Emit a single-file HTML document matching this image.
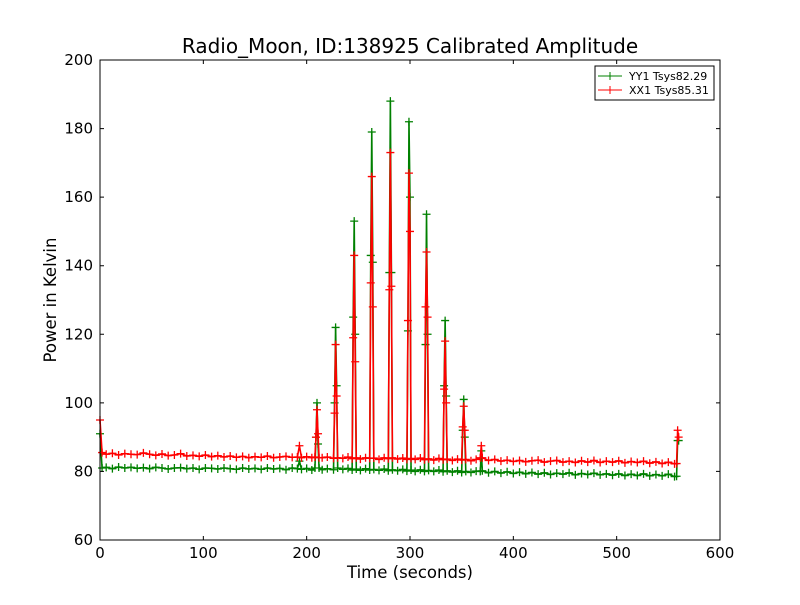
<!DOCTYPE html>
<html><head><meta charset="utf-8"><style>
body{margin:0;background:#fff;}
svg text{font-family:"DejaVu Sans","Liberation Sans",sans-serif;}
</style></head><body>
<svg id="chart" width="800" height="600" viewBox="0 0 800 600">
<rect width="800" height="600" fill="#fff"/>
<g id="plot"></g>
</svg>
<script>
const times=[0,2,6,12,18,24,30,36,42,48,54,60,66,72,78,84,90,96,102,108,114,120,126,132,138,144,150,156,162,168,174,180,186,191,193,195,200,205,208,209,210,211,212,215,220,226,227,228,229,230,235,240,244,245,246,247,248,252,257,261,262,263,264,265,270,275,279,280,281,282,283,288,293,297,298,299,300,301,305,310,314,315,316,317,318,323,328,332,333,334,335,336,341,346,350,351,352,353,354,359,364,368,369,370,376,382,388,394,400,406,412,418,424,430,436,442,448,454,460,466,472,478,484,490,496,502,508,514,520,526,532,538,544,550,556,558,559,560];
const yy1=[91,81,81.2,80.8,81.3,81,81.2,80.9,81.1,80.8,81.2,81,80.7,81,81.1,80.8,81,80.6,81,80.9,80.7,81,80.8,80.6,81,80.7,80.9,80.6,81,80.7,80.9,80.5,81,80.8,83,80.6,80.9,80.4,81,90,100,88,81,80.5,80.8,80.5,100,122,105,81,80.6,80.9,80.4,125,153,120,80.7,80.3,80.8,80.4,143,179,141,80.6,80.3,80.7,80.2,138,188,138,80.5,80.2,80.6,80.1,121,182,160,80.4,80,80.5,80,117,155,120,80.3,80,80.4,79.9,105,124,102,80.2,79.8,80.2,79.7,92,101,90,80,79.7,80.1,80,86,80.2,79.6,80,79.5,79.9,79.4,79.8,79.3,79.7,79.2,79.6,79.1,79.5,79.2,79.6,79,79.4,79.1,79.5,79,79.3,78.9,79.3,78.8,79.2,78.8,79.3,78.7,79.1,78.7,79.2,78.5,78.6,89,89];
const xx1=[95,85.5,85,85.3,84.8,85.2,85,84.9,85.4,85,84.7,85.1,84.6,84.8,85.2,84.5,84.7,84.4,84.8,84.3,84.6,84.2,84.5,84.1,84.4,84,84.3,84.1,84.5,84,84.2,84.4,84.1,84.2,87.5,84,84.3,84,84.2,90,98,91,84,84,84.2,83.8,97,117,102,84,83.8,84.2,83.7,119,143,112,84,83.6,84,83.8,135,166,128,83.9,83.5,84,83.7,133,173,134,84,83.6,83.9,83.5,124,167,150,83.8,83.5,83.9,83.4,128,144,125,83.7,83.3,83.8,83.4,104,118,100,83.6,83.2,83.6,83.3,93,99,92,83.5,83.1,83.5,84,87.5,84,83.2,83.5,83,83.3,82.9,83.2,82.8,83.1,83.3,82.7,83,83.2,82.7,83,82.6,83.1,82.7,83.2,82.6,83,82.7,83.1,82.5,82.9,82.6,83,82.4,82.8,82.3,82.7,82.2,82.3,92,90];
const xTicks=[0,100,200,300,400,500,600];
const yTicks=[60,80,100,120,140,160,180,200];

const L=100,R=720,T=60,B=540;
const xs=v=>L+(v-0)/600*(R-L);
const ys=v=>B-(v-60)/140*(B-T);
const NS='http://www.w3.org/2000/svg';
const g=document.getElementById('plot');
function mk(tag,attrs,parent){const e=document.createElementNS(NS,tag);for(const k in attrs)e.setAttribute(k,attrs[k]);(parent||g).appendChild(e);return e;}

function series(vals,color,name){
  const grp=mk('g',{});
  
  
  const d=vals.map((v,i)=>(i?'L':'M')+xs(times[i]).toFixed(2)+' '+ys(v).toFixed(2)).join(' ');
  const ln=mk('path',{d:d,fill:'none',stroke:color,'stroke-width':1.6},grp);
  
  
  let md='';
  vals.forEach((v,i)=>{const x=xs(times[i]),y=ys(v);md+=`M${x-4} ${y}H${x+4}M${x} ${y-4}V${y+4}`;});
  const mp=mk('path',{d:md,fill:'none',stroke:color,'stroke-width':1.3},grp);
  
  
}
series(yy1,'#008000','yy1-series');
series(xx1,'#ff0000','xx1-series');

const fr=mk('rect',{x:L,y:T,width:R-L,height:B-T,fill:'none',stroke:'#000','stroke-width':1});



xTicks.forEach(t=>{
  const x=xs(t);
  mk('path',{d:`M${x} ${B}v-4M${x} ${T}v4`,stroke:'#000'});
  const tx=mk('text',{x:x,y:B+18,'text-anchor':'middle','font-size':15});
  tx.textContent=t;
  
  
});
yTicks.forEach(t=>{
  const y=ys(t);
  mk('path',{d:`M${L} ${y}h4M${R} ${y}h-4`,stroke:'#000'});
  const tx=mk('text',{x:L-7,y:y+5,'text-anchor':'end','font-size':15});
  tx.textContent=t;
  
  
});

const title=mk('text',{x:410,y:53,'text-anchor':'middle','font-size':20});
title.textContent='Radio_Moon, ID:138925 Calibrated Amplitude';


const xl=mk('text',{x:410,y:578,'text-anchor':'middle','font-size':16.5});
xl.textContent='Time (seconds)';


const yl=mk('text',{x:0,y:0,'text-anchor':'middle','font-size':16.5,transform:'translate(56,300) rotate(-90)'});
yl.textContent='Power in Kelvin';



const lg=mk('g',{});


mk('rect',{x:595,y:66,width:119,height:34,fill:'#fff',stroke:'#000'},lg);
[['YY1 Tsys82.29','#008000',76],['XX1 Tsys85.31','#ff0000',90]].forEach(([lab,c,y])=>{
  const e=mk('g',{},lg);
  
  
  mk('path',{d:`M598 ${y}h24M610 ${y-4}v8`,stroke:c,fill:'none'},e);
  const t=mk('text',{x:629,y:y+4,'font-size':11},e);
  t.textContent=lab;
});
</script>
</body></html>
